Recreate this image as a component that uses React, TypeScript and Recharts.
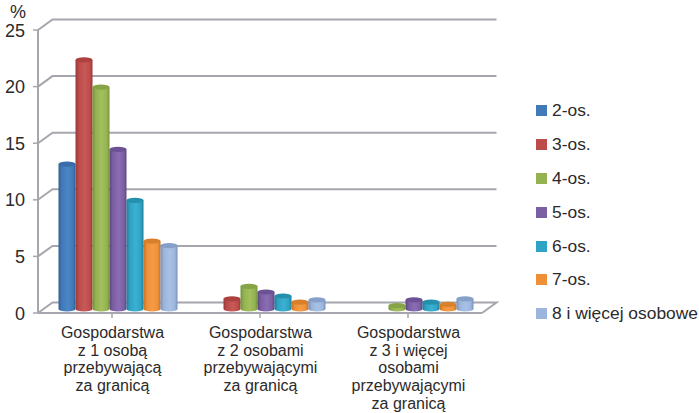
import React from 'react';
import { ComposedChart, Bar, XAxis, YAxis, CartesianGrid, Legend } from 'recharts';

const categories = [
  'Gospodarstwa\nz 1 osobą\nprzebywającą\nza granicą',
  'Gospodarstwa\nz 2 osobami\nprzebywającymi\nza granicą',
  'Gospodarstwa\nz 3 i więcej\nosobami\nprzebywającymi\nza granicą',
];
const os2 = [12.8, null, null];
const os3 = [22.0, 0.9, null];
const os4 = [19.6, 2.0, 0.3];
const os5 = [14.1, 1.5, 0.8];
const os6 = [9.6, 1.15, 0.6];
const os7 = [6.0, 0.6, 0.4];
const os8 = [5.6, 0.8, 0.9];
const yTicks = [0, 5, 10, 15, 20, 25];

const seriesList = [
  { key: '2-os.', values: os2, color: '#4279b8', dark: '#2f5f97', light: '#4a86c6', top: '#3a6ca8' },
  { key: '3-os.', values: os3, color: '#bd4b4a', dark: '#963a3a', light: '#c75a58', top: '#ad4040' },
  { key: '4-os.', values: os4, color: '#94b350', dark: '#75913c', light: '#a2c05e', top: '#86a445' },
  { key: '5-os.', values: os5, color: '#7b5fa3', dark: '#5c4680', light: '#8a6db2', top: '#6c5294' },
  { key: '6-os.', values: os6, color: '#2fa3c4', dark: '#217c96', light: '#3bb0d0', top: '#2590ae' },
  { key: '7-os.', values: os7, color: '#ef9036', dark: '#c27026', light: '#f59c48', top: '#d8802c' },
  { key: '8 i więcej osobowe', values: os8, color: '#9bb5dd', dark: '#7690b8', light: '#a9c1e4', top: '#86a0ca' },
];

const rows = categories.map((name, i) => {
  const row: Record<string, any> = { name };
  seriesList.forEach((s) => { row[s.key] = s.values[i]; });
  return row;
});

const LINE = '#a6a6ae';
const TEXT = '#2c2a2b';
const FONT = '"Liberation Sans", Arial, sans-serif';
const DEPTH_X = 14.5;
const DEPTH_Y = -10.5;
const BAR_DX = 7.5;
const BAR_DY = -4;

function WallLine(props: any) {
  const { x1, x2, y1 } = props;
  const isFloor = Math.abs(y1 - 313) < 1;
  return (
    <g>
      <polyline
        points={`${x1},${y1} ${x1 + DEPTH_X},${y1 + DEPTH_Y} ${x2 + DEPTH_X},${y1 + DEPTH_Y}${isFloor ? ` ${x2},${y1}` : ''}`}
        fill="none"
        stroke={LINE}
        strokeWidth={2}
      />
    </g>
  );
}

function cylinder(id: string, topColor: string) {
  return function Cylinder(props: any) {
    const { x, y, width, height } = props;
    if (height == null || !(width > 0) || !(height > 0)) return <g />;
    const l = x + BAR_DX;
    const r = l + width;
    const t = y + BAR_DY;
    const b = y + height + BAR_DY;
    const ry = 2.6;
    return (
      <g>
        <path
          d={`M${l},${t} L${l},${b} A${width / 2},${ry} 0 0 0 ${r},${b} L${r},${t} Z`}
          fill={`url(#${id})`}
        />
        <ellipse cx={l + width / 2} cy={t} rx={width / 2} ry={ry} fill={topColor} />
      </g>
    );
  };
}

function CategoryTick(props: any) {
  const { x, y, payload } = props;
  const lines = String(payload.value).split('\n');
  return (
    <text textAnchor="middle" fontFamily={FONT} fontSize={16} fill={TEXT}>
      {lines.map((line, i) => (
        <tspan key={i} x={x + 0.5} y={y + 18 + i * 17.7}>{line}</tspan>
      ))}
    </text>
  );
}

function ValueTick(props: any) {
  const { y, payload } = props;
  return (
    <text x={25} y={y + 6.5} textAnchor="end" fontFamily={FONT} fontSize={18} fill={TEXT}>
      {payload.value}
    </text>
  );
}

function LegendBox(props: any) {
  const items = props.payload || [];
  return (
    <div style={{ fontFamily: FONT, fontSize: 17.4, color: TEXT }}>
      {items.map((it: any) => {
        const s = seriesList.find((d) => d.key === it.value);
        return (
          <div key={it.value} style={{ height: 33.8, display: 'flex', alignItems: 'center', whiteSpace: 'nowrap' }}>
            <span style={{ width: 11, height: 11, marginRight: 5, background: s ? s.color : it.color, flex: 'none' }} />
            <span>{it.value}</span>
          </div>
        );
      })}
    </div>
  );
}

export default function App() {
  return (
    <div style={{ position: 'absolute', left: 0, top: 0, width: 699, height: 413, background: '#fff', overflow: 'hidden' }}>
      <ComposedChart
        width={699}
        height={413}
        data={rows}
        margin={{ top: 30, right: 217, bottom: 0, left: 0 }}
        barCategoryGap={13}
        barGap={0}
      >
        <defs>
          {seriesList.map((s, i) => (
            <linearGradient key={s.key} id={`cyl${i}`} x1="0" y1="0" x2="1" y2="0">
              <stop offset="0" stopColor={s.dark} />
              <stop offset="0.2" stopColor={s.color} />
              <stop offset="0.55" stopColor={s.light} />
              <stop offset="0.85" stopColor={s.color} />
              <stop offset="1" stopColor={s.dark} />
            </linearGradient>
          ))}
        </defs>
        <CartesianGrid vertical={false} horizontal={(p: any) => <WallLine key={p.key} {...p} />} />
        <XAxis
          dataKey="name"
          height={100}
          interval={0}
          tick={<CategoryTick />}
          tickSize={5}
          axisLine={{ stroke: LINE, strokeWidth: 2 }}
          tickLine={{ stroke: LINE, strokeWidth: 1.5 }}
        />
        <YAxis
          width={38}
          domain={[0, 25]}
          ticks={yTicks}
          interval={0}
          tick={<ValueTick />}
          tickSize={5}
          axisLine={{ stroke: LINE, strokeWidth: 2 }}
          tickLine={{ stroke: LINE, strokeWidth: 1.5 }}
          label={{
            content: () => (
              <text x={10} y={18} fontFamily={FONT} fontSize={18} fill={TEXT}>%</text>
            ),
          }}
        />
        <Legend
          layout="vertical"
          align="center"
          verticalAlign="middle"
          content={<LegendBox />}
          wrapperStyle={{ left: 536, top: 94, width: 163, margin: 0 }}
        />
        {seriesList.map((s, i) => (
          <Bar
            key={s.key}
            dataKey={s.key}
            fill={s.color}
            isAnimationActive={false}
            shape={cylinder(`cyl${i}`, s.top)}
          />
        ))}
      </ComposedChart>
    </div>
  );
}
